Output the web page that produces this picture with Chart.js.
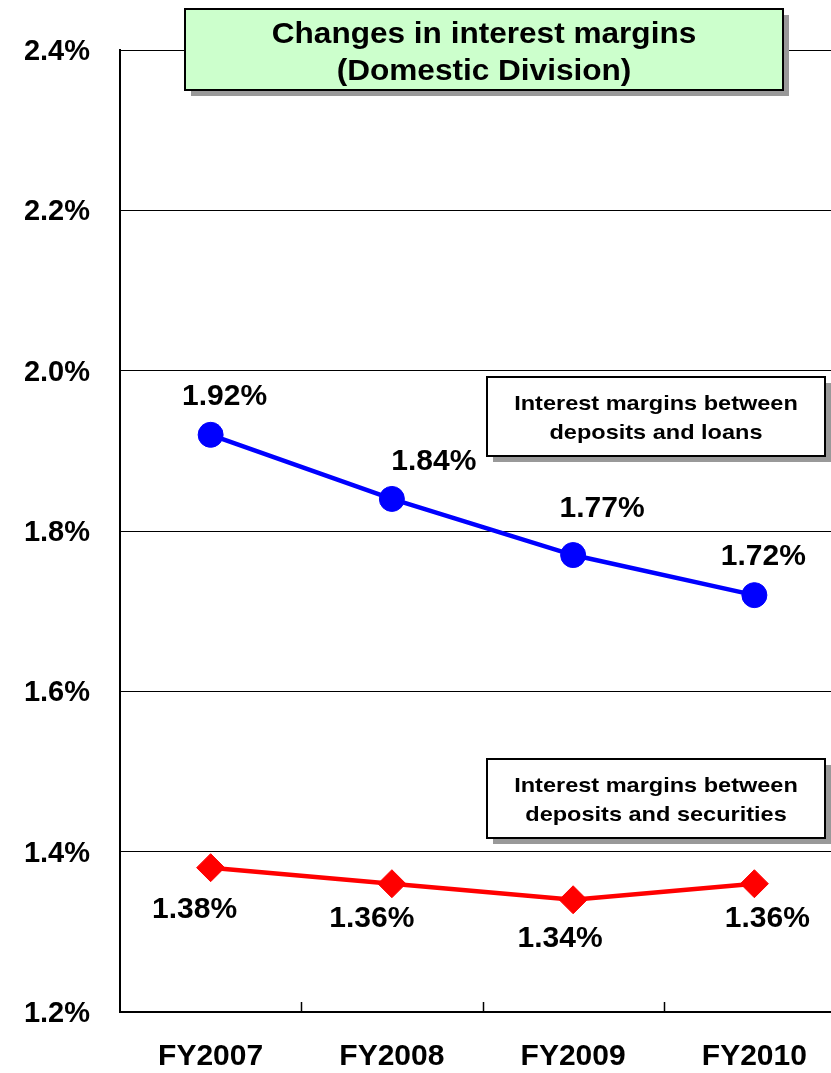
<!DOCTYPE html>
<html>
<head>
<meta charset="utf-8">
<script src="https://cdn.jsdelivr.net/npm/chart.js@4/dist/chart.umd.min.js"></script>
<style>
  html, body { margin: 0; padding: 0; background: #ffffff; overflow: hidden; }
  #wrap { position: relative; width: 860px; height: 1073px; }
</style>
</head>
<body>
<div id="wrap"><canvas id="c" width="860" height="1073"></canvas></div>
<script>
// Fiscal years on the x axis
const fiscalYears = ['FY2007', 'FY2008', 'FY2009', 'FY2010'];
// Margin between deposits and loans (%)
const loanMargins = [1.92, 1.84, 1.77, 1.72];
// Margin between deposits and securities (%)
const securitiesMargins = [1.38, 1.36, 1.34, 1.36];
// Y axis range and tick step (%)
const yMin = 1.2, yMax = 2.4, yStep = 0.2;

const FONT = '"Liberation Sans", Arial, Helvetica, sans-serif';

// Value labels next to each marker (offsets are label placement only)
const valueLabels = {
  id: 'valueLabels',
  afterDatasetsDraw(chart, args, opts) {
    const ctx = chart.ctx;
    ctx.save();
    ctx.font = 'bold 30px ' + FONT;
    ctx.fillStyle = '#000';
    ctx.textAlign = 'center';
    ctx.textBaseline = 'middle';
    chart.data.datasets.forEach((ds, di) => {
      const meta = chart.getDatasetMeta(di);
      const offs = opts.offsets[di];
      meta.data.forEach((pt, i) => {
        const v = ds.data[i];
        ctx.fillText(v.toFixed(2) + '%', pt.x + offs[i][0], pt.y + offs[i][1]);
      });
    });
    ctx.restore();
  }
};

// Inward tick marks on the category axis at category boundaries
const boundaryTicks = {
  id: 'boundaryTicks',
  afterDraw(chart) {
    const xs = chart.scales.x, ctx = chart.ctx;
    const half = (xs.getPixelForValue(1) - xs.getPixelForValue(0)) / 2;
    ctx.save();
    ctx.strokeStyle = '#000';
    ctx.lineWidth = 1.5;
    for (let i = 0; i < fiscalYears.length - 1; i++) {
      const x = Math.round(xs.getPixelForValue(i) + half) + 0.5;
      ctx.beginPath();
      ctx.moveTo(x, xs.top);
      ctx.lineTo(x, xs.top - 10);
      ctx.stroke();
    }
    ctx.restore();
  }
};

// Shadowed text boxes: chart title and the two series captions
function shadowBox(ctx, b) {
  ctx.save();
  ctx.fillStyle = '#999999';
  ctx.fillRect(b.x + 6, b.y + 6, b.w, b.h);
  ctx.fillStyle = b.fill;
  ctx.fillRect(b.x, b.y, b.w, b.h);
  ctx.strokeStyle = '#000';
  ctx.lineWidth = 2;
  ctx.strokeRect(b.x, b.y, b.w, b.h);
  ctx.fillStyle = '#000';
  ctx.font = 'bold ' + b.size + 'px ' + FONT;
  ctx.textAlign = 'center';
  ctx.textBaseline = 'middle';
  const cx = b.x + b.w / 2;
  const n = b.lines.length;
  b.lines.forEach((t, i) => {
    const cy = b.y + b.h / 2 + b.dy + (i - (n - 1) / 2) * b.lh;
    ctx.save();
    ctx.translate(cx, cy);
    ctx.scale(b.sx, 1);
    ctx.fillText(t, 0, 0);
    ctx.restore();
  });
  ctx.restore();
}

const textBoxes = {
  id: 'textBoxes',
  afterDraw(chart, args, opts) {
    opts.boxes.forEach(b => shadowBox(chart.ctx, b));
  }
};

new Chart(document.getElementById('c'), {
  type: 'line',
  data: {
    labels: fiscalYears,
    datasets: [
      {
        label: 'Interest margins between deposits and loans',
        data: loanMargins,
        borderColor: '#0000ff',
        backgroundColor: '#0000ff',
        borderWidth: 4.5,
        pointStyle: 'circle',
        pointRadius: 12.5,
        pointBorderWidth: 1,
        tension: 0
      },
      {
        label: 'Interest margins between deposits and securities',
        data: securitiesMargins,
        borderColor: '#ff0000',
        backgroundColor: '#ff0000',
        borderWidth: 4.5,
        pointStyle: 'rectRot',
        pointRadius: 14,
        pointBorderWidth: 1,
        tension: 0
      }
    ]
  },
  options: {
    responsive: false,
    animation: false,
    devicePixelRatio: 1,
    layout: { padding: { top: 50, right: 12, bottom: 0, left: 0 } },
    plugins: {
      legend: { display: false },
      title: { display: false },
      tooltip: { enabled: false },
      valueLabels: {
        offsets: [
          [[14, -38], [42, -37], [29, -46], [9, -38]],
          [[-16, 42], [-20, 35], [-13, 39], [13, 35]]
        ]
      },
      textBoxes: {
        boxes: [
          { x: 185, y: 9, w: 598, h: 81, fill: '#ccffcc', size: 29.5, sx: 1.07, lh: 37, dy: 4,
            lines: ['Changes in interest margins', '(Domestic Division)'] },
          { x: 487, y: 377, w: 338, h: 79, fill: '#ffffff', size: 21, sx: 1.12, lh: 29, dy: 2,
            lines: ['Interest margins between', 'deposits and loans'] },
          { x: 487, y: 759, w: 338, h: 79, fill: '#ffffff', size: 21, sx: 1.12, lh: 29, dy: 2,
            lines: ['Interest margins between', 'deposits and securities'] }
        ]
      }
    },
    scales: {
      x: {
        type: 'category',
        offset: true,
        grid: { display: false, drawTicks: false },
        border: { display: true, color: '#000', width: 2 },
        ticks: { color: '#000', font: { family: FONT, size: 30, weight: 'bold' }, padding: 27 },
        afterFit: s => { s.height = 61; }
      },
      y: {
        min: yMin,
        max: yMax,
        grid: { color: '#000', lineWidth: 1, drawTicks: false },
        border: { display: true, color: '#000', width: 2 },
        ticks: {
          stepSize: yStep,
          color: '#000',
          padding: 30,
          labelOffset: 2,
          font: { family: FONT, size: 29, weight: 'bold' },
          callback: v => v.toFixed(1) + '%'
        },
        afterFit: s => { s.width = 120; }
      }
    }
  },
  plugins: [valueLabels, boundaryTicks, textBoxes]
});
</script>
</body>
</html>
